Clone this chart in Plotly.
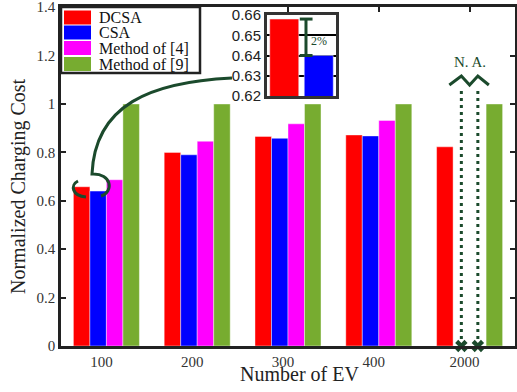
import plotly.graph_objects as go

# ---------------- data ----------------
categories = ["100", "200", "300", "400", "2000"]
series_names = ["DCSA", "CSA", "Method of [4]", "Method of [9]"]
dcsa = [0.658, 0.800, 0.866, 0.872, 0.823]
csa = [0.640, 0.790, 0.858, 0.868, None]
method4 = [0.687, 0.846, 0.918, 0.932, None]
method9 = [1.0, 1.0, 1.0, 1.0, 1.0]
colors = ["#ff0000", "#0000ff", "#ff00ff", "#77ac30"]
y_ticks = [0, 0.2, 0.4, 0.6, 0.8, 1.0, 1.2, 1.4]
inset_ticks = [0.62, 0.63, 0.64, 0.65, 0.66]

DARK = "#1b4a2c"
SERIF = "Liberation Serif"
SANS = "Liberation Sans"

# plot-area geometry (pixels)
W_FIG, H_FIG = 517, 392
L, R, T, B = 61, 515, 7, 346
PW, PH = R - L, B - T
YMAX = 1.4
BARGAP = 0.273
NCAT = len(categories)


def P(x, y):
    return (x - L) / PW, (B - y) / PH


def xpix(xd):
    return L + (xd + 0.5) / NCAT * PW


def ydata(py):
    return (B - py) / PH * YMAX


fig = go.Figure()
xs = list(range(NCAT))
all_series = [dcsa, csa, method4, method9]
for name, vals, col in zip(series_names, all_series, colors):
    fig.add_trace(go.Bar(
        x=xs, y=vals, name=name, marker_color=col,
        marker_line=dict(width=0.6, color="rgba(255,255,255,0.7)"),
        showlegend=False, xaxis="x", yaxis="y"))

# N.A. positions for 2000 (CSA and Method of [4])
barw = (1 - BARGAP) / len(series_names)
na_x = [NCAT - 1 + (i - 1.5) * barw for i, v in enumerate(all_series) if v[-1] is None]
fig.add_trace(go.Scatter(
    x=na_x, y=[0] * len(na_x), mode="markers",
    marker=dict(symbol="x", size=11, color=DARK),
    showlegend=False, cliponaxis=False, xaxis="x", yaxis="y"))

# inset bars
fig.add_trace(go.Bar(
    x=[0, 1], y=[dcsa[0], csa[0]], marker_color=colors[:2], width=0.84,
    showlegend=False, xaxis="x2", yaxis="y2"))

shapes = []
annotations = []

# dotted N.A. lines + zigzag
zig_top = 76
for xd in na_x:
    shapes.append(dict(type="line", xref="x", yref="y", x0=xd, x1=xd,
                       y0=0, y1=ydata(90), line=dict(color=DARK, width=3, dash="3px,4px")))
p1, p2 = xpix(na_x[0]), xpix(na_x[1])
mid = (p1 + p2) / 2
pts = [(p1 - 12, 85), (p1, zig_top), (mid, 85), (p2, zig_top), (p2 + 11, 85)]
path = "M " + " L ".join("%f,%f" % P(*p) for p in pts)
shapes.append(dict(type="path", xref="paper", yref="paper", path=path,
                   line=dict(color=DARK, width=3)))
nx, ny = P(mid, 62)
annotations.append(dict(x=nx, y=ny, xref="paper", yref="paper", text="N. A.",
                        showarrow=False, xanchor="center", yanchor="middle",
                        font=dict(family=SERIF, size=15, color=DARK)))


def pp(x, y):
    a, b = P(x, y)
    return "%f,%f" % (a, b)


# curved pointer from inset to group 100
curve = ("M " + pp(232, 78) + " C " + pp(150, 82) + " " + pp(95, 105) + " " + pp(92, 174)
         + " C " + pp(112, 173) + " " + pp(114, 192) + " " + pp(101, 196))
shapes.append(dict(type="path", xref="paper", yref="paper", path=curve,
                   line=dict(color=DARK, width=3)))
arc = "M " + pp(78, 181) + " C " + pp(70, 185) + " " + pp(72, 196) + " " + pp(86, 197)
shapes.append(dict(type="path", xref="paper", yref="paper", path=arc,
                   line=dict(color=DARK, width=3)))

# I-beam in inset
xb = 0.63
shapes.append(dict(type="line", xref="x2", yref="y2", x0=xb, x1=xb, y0=csa[0], y1=dcsa[0],
                   line=dict(color=DARK, width=3)))
for yv in (csa[0], dcsa[0]):
    shapes.append(dict(type="line", xref="x2", yref="y2", x0=0.45, x1=0.82, y0=yv, y1=yv,
                       line=dict(color=DARK, width=3)))
annotations.append(dict(x=1.0, y=(csa[0] + dcsa[0]) / 2 - 0.002, xref="x2", yref="y2", text="2%",
                        showarrow=False, font=dict(family=SERIF, size=12, color=DARK)))

# manual legend
lx0, ly0 = P(61, 7)
lx1, ly1 = P(200, 73)
shapes.append(dict(type="rect", xref="paper", yref="paper", x0=lx0, x1=lx1, y0=ly1, y1=ly0,
                   fillcolor="white", line=dict(color="#222", width=2.5)))
row_y = [17.5, 32.5, 48, 64]
for name, col, ry in zip(series_names, colors, row_y):
    ax0, ay0 = P(64, ry - 7)
    ax1, ay1 = P(91, ry + 7)
    shapes.append(dict(type="rect", xref="paper", yref="paper", x0=ax0, x1=ax1, y0=ay1, y1=ay0,
                       fillcolor=col, line=dict(width=0)))
    tx, ty = P(97, ry)
    annotations.append(dict(x=tx, y=ty, xref="paper", yref="paper", text=name,
                            xanchor="left", yanchor="middle", showarrow=False,
                            font=dict(family=SERIF, size=16, color="#111")))

# axis titles
ax_, ay_ = P(18, 186)
annotations.append(dict(x=ax_, y=ay_, xref="paper", yref="paper", text="Normalized Charging Cost",
                        textangle=-90, showarrow=False, xanchor="center", yanchor="middle",
                        font=dict(family=SERIF, size=20, color="#222")))
bx_, by_ = P(299, 374)
annotations.append(dict(x=bx_, y=by_, xref="paper", yref="paper", text="Number of EV",
                        showarrow=False, xanchor="center", yanchor="middle",
                        font=dict(family=SERIF, size=20, color="#222")))

ix0, iy0 = P(267, 96)
ix1, iy1 = P(336, 15)

fig.update_layout(
    width=W_FIG, height=H_FIG,
    margin=dict(l=L, r=W_FIG - R, t=T, b=H_FIG - B, autoexpand=False),
    plot_bgcolor="white", paper_bgcolor="white",
    barmode="group", bargap=BARGAP, bargroupgap=0,
    showlegend=False,
    xaxis=dict(range=[-0.5, NCAT - 0.5], tickvals=xs, ticktext=categories,
               showline=True, mirror=True, linewidth=2.5, linecolor="#222",
               ticks="", showgrid=False, zeroline=False, automargin=False,
               ticklabelshift=-5,
               tickfont=dict(family=SERIF, size=15, color="#333")),
    xaxis3=dict(range=[-0.5, NCAT - 0.5], overlaying="x", anchor="y", side="top",
                tickvals=xs, ticks="inside", ticklen=5, tickwidth=2, tickcolor="#222",
                showticklabels=False, showline=False, showgrid=False, zeroline=False,
                automargin=False),
    yaxis=dict(range=[0, YMAX * 1.0005], tickvals=y_ticks, ticktext=["%g" % v for v in y_ticks],
               showline=True, mirror="ticks", linewidth=2.5, linecolor="#222",
               ticks="inside", ticklen=5, tickwidth=2, tickcolor="#222",
               showgrid=False, zeroline=False, automargin=False,
               ticklabeloverflow="allow",
               tickfont=dict(family=SERIF, size=15, color="#333")),
    xaxis2=dict(domain=[ix0, ix1], anchor="y2", range=[-0.5, 1.5], showticklabels=False,
                ticks="", showgrid=False, zeroline=False, automargin=False,
                showline=True, mirror=True, linewidth=3, linecolor="#333"),
    yaxis2=dict(domain=[iy0, iy1], anchor="x2", range=[inset_ticks[0], inset_ticks[-1]],
                tickvals=inset_ticks, ticktext=["%.2f" % v for v in inset_ticks],
                ticks="", showgrid=True, gridcolor="#000", gridwidth=1.5, zeroline=False,
                showline=True, mirror=True, linewidth=3, linecolor="#333", automargin=False,
                ticklabeloverflow="allow",
                tickfont=dict(family=SANS, size=15, color="#222")),
    shapes=shapes, annotations=annotations,
)

# dummy trace to activate xaxis3
fig.add_trace(go.Scatter(x=[None], y=[None], xaxis="x3", yaxis="y", showlegend=False))

fig.write_html("out.html", config={"displayModeBar": False},
               post_script="document.body.style.margin='0';")
